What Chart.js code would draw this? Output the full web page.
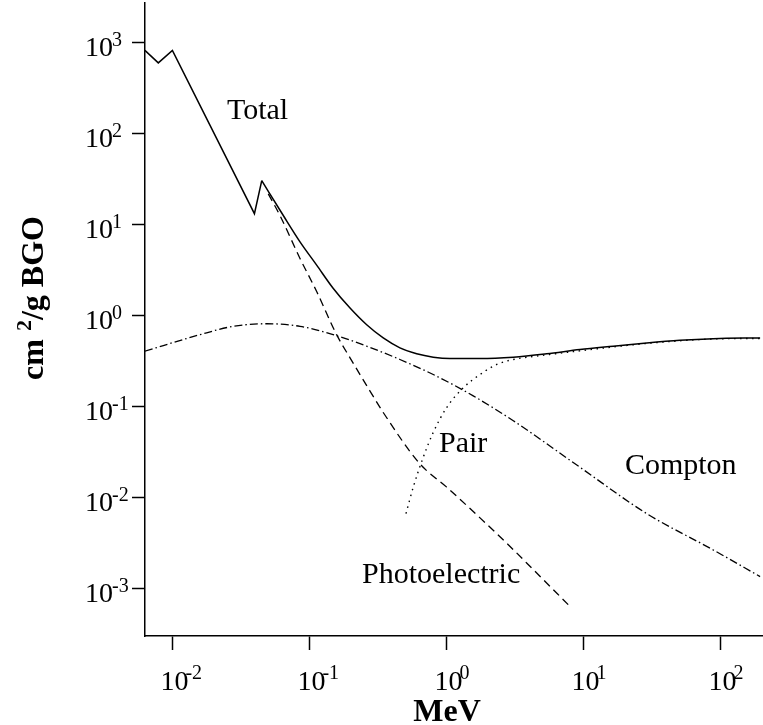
<!DOCTYPE html>
<html>
<head>
<meta charset="utf-8">
<script src="https://cdn.jsdelivr.net/npm/chart.js@4.4.1/dist/chart.umd.min.js"></script>
<style>
html, body { margin: 0; padding: 0; background: #fff; }
#wrap { width: 763px; height: 725px; }
</style>
</head>
<body>
<div id="wrap"><canvas id="chart1" width="763" height="725"></canvas></div>
<script>
// photon attenuation in BGO, energies in MeV, values in cm2/g
var totalE = [0.0063, 0.00789, 0.01, 0.0397, 0.0449, 0.0645, 0.0854, 0.113, 0.149, 0.198, 0.262, 0.346, 0.458, 0.607, 0.802, 1.06, 1.76, 3.08, 5.40, 9.44, 16.5, 29.0, 50.7, 88.7, 195];
var totalMu = [824, 600, 824, 13.2, 30.5, 12.6, 6.47, 3.59, 2.0, 1.21, 0.793, 0.568, 0.442, 0.380, 0.349, 0.337, 0.337, 0.349, 0.380, 0.423, 0.461, 0.501, 0.536, 0.558, 0.568];
// index of the last absorption edge; the curve is smooth after it
var lastEdge = 4;

var photoE = [0.0501, 0.061, 0.0854, 0.113, 0.158, 0.198, 0.277, 0.346, 0.642, 1.005, 1.76, 3.08, 4.31, 7.98];
var photoMu = [21.8, 12.6, 4.25, 1.84, 0.617, 0.343, 0.148, 0.086, 0.0234, 0.0130, 0.00597, 0.00267, 0.00161, 0.000635];

var comptonE = [0.0063, 0.0159, 0.0278, 0.0488, 0.0854, 0.149, 0.262, 0.458, 0.802, 1.57, 3.08, 9.44, 29.0, 88.7, 195];
var comptonMu = [0.406, 0.617, 0.762, 0.814, 0.762, 0.617, 0.461, 0.329, 0.225, 0.131, 0.0698, 0.0215, 0.00665, 0.00265, 0.00135];

var pairE = [0.507, 0.573, 0.678, 0.802, 1.005, 1.33, 1.76, 2.33, 3.08, 5.40, 9.44, 29.0, 88.7, 195];
var pairMu = [0.00665, 0.0130, 0.0277, 0.052, 0.0975, 0.161, 0.225, 0.290, 0.329, 0.37, 0.41, 0.494, 0.553, 0.561];

var xTicks = [0.01, 0.1, 1, 10, 100];
var yTicks = [0.001, 0.01, 0.1, 1, 10, 100, 1000];

// curve names written next to the curves
var curveNames = ['Total', 'Pair', 'Compton', 'Photoelectric'];
var nameE = [0.02503, 0.883, 20.1, 0.242];
var nameMu = [143.9, 0.0314, 0.0181, 0.001135];

function toPoints(xs, ys) {
    return xs.map(function (x, i) { return { x: x, y: ys[i] }; });
}

var serif = '"Liberation Serif", "Times New Roman", serif';

// draws the 10^n tick labels, axis titles and curve names
var textPlugin = {
    id: 'paperText',
    afterDraw: function (chart) {
        var ctx = chart.ctx;
        var xs = chart.scales.x, ys = chart.scales.y;
        var area = chart.chartArea;
        ctx.save();
        ctx.fillStyle = '#000';
        ctx.textBaseline = 'alphabetic';
        ctx.textAlign = 'left';

        yTicks.forEach(function (v) {
            var py = ys.getPixelForValue(v);
            var exp = String(Math.round(Math.log10(v)));
            ctx.font = '28px ' + serif;
            var w = ctx.measureText('10').width;
            ctx.fillText('10', area.left - 60, py + 13.4);
            ctx.font = '20px ' + serif;
            ctx.fillText(exp, area.left - 60 + w - 1, py + 3.4);
        });

        xTicks.forEach(function (v) {
            var px = xs.getPixelForValue(v);
            var exp = String(Math.round(Math.log10(v)));
            ctx.font = '28px ' + serif;
            var w = ctx.measureText('10').width;
            ctx.fillText('10', px - 12, area.bottom + 54);
            ctx.font = '20px ' + serif;
            ctx.fillText(exp, px - 12 + w - 3, area.bottom + 43);
        });

        // x title
        ctx.font = 'bold 32px ' + serif;
        ctx.textAlign = 'center';
        ctx.fillText('MeV', 447, 721);

        // y title, rotated
        ctx.save();
        ctx.translate(43, 298);
        ctx.rotate(-Math.PI / 2);
        ctx.textAlign = 'left';
        var big = 'bold 32px ' + serif, small = 'bold 22px ' + serif;
        ctx.font = big;
        var w1 = ctx.measureText('cm ').width;
        var w3 = ctx.measureText('/g BGO').width;
        ctx.font = small;
        var w2 = ctx.measureText('2').width;
        var x0 = -(w1 + w2 + w3) / 2;
        ctx.font = big;
        ctx.fillText('cm ', x0, 0);
        ctx.font = small;
        ctx.fillText('2', x0 + w1, -12);
        ctx.font = big;
        ctx.fillText('/g BGO', x0 + w1 + w2, 0);
        ctx.restore();

        // curve names
        ctx.font = '30px ' + serif;
        ctx.textAlign = 'left';
        curveNames.forEach(function (name, i) {
            ctx.fillText(name, xs.getPixelForValue(nameE[i]), ys.getPixelForValue(nameMu[i]));
        });
        ctx.restore();
    }
};

var totalPoints = toPoints(totalE, totalMu);

var chart1Ctx = document.getElementById('chart1').getContext('2d');
var chart1 = new Chart(chart1Ctx, {
    type: 'line',
    data: {
        datasets: [{
            // edges: straight segments
            label: 'Total',
            data: totalPoints.slice(0, lastEdge + 1),
            borderColor: '#000',
            borderWidth: 1.5
        }, {
            label: 'Total',
            data: totalPoints.slice(lastEdge),
            borderColor: '#000',
            borderWidth: 1.5,
            cubicInterpolationMode: 'monotone'
        }, {
            label: 'Photoelectric',
            data: toPoints(photoE, photoMu),
            borderColor: '#000',
            borderWidth: 1.3,
            borderDash: [8, 5],
            cubicInterpolationMode: 'monotone'
        }, {
            label: 'Compton',
            data: toPoints(comptonE, comptonMu),
            borderColor: '#000',
            borderWidth: 1.3,
            borderDash: [8, 3, 1.5, 3],
            cubicInterpolationMode: 'monotone'
        }, {
            label: 'Pair',
            data: toPoints(pairE, pairMu),
            borderColor: '#000',
            borderWidth: 1.4,
            borderDash: [1.5, 4.5],
            cubicInterpolationMode: 'monotone'
        }]
    },
    options: {
        responsive: false,
        animation: false,
        layout: { padding: { left: 132, right: 0, top: 3, bottom: 75 } },
        elements: {
            point: { radius: 0 },
            line: { tension: 0, fill: false }
        },
        plugins: {
            legend: { display: false },
            tooltip: { enabled: false }
        },
        scales: {
            x: {
                type: 'logarithmic',
                min: 0.00631,
                max: 204.7,
                border: { display: true, color: '#000', width: 1.5 },
                grid: { display: true, drawOnChartArea: false, drawTicks: true, tickLength: 14, tickColor: '#000', tickWidth: 1.5 },
                ticks: { display: false },
                afterBuildTicks: function (scale) {
                    scale.ticks = xTicks.map(function (v) { return { value: v }; });
                }
            },
            y: {
                type: 'logarithmic',
                min: 3.30e-4,
                max: 2735,
                border: { display: true, color: '#000', width: 1.5 },
                grid: { display: true, drawOnChartArea: false, drawTicks: true, tickLength: 13, tickColor: '#000', tickWidth: 1.5 },
                ticks: { display: false },
                afterBuildTicks: function (scale) {
                    scale.ticks = yTicks.map(function (v) { return { value: v }; });
                }
            }
        }
    },
    plugins: [textPlugin]
});
</script>
</body>
</html>
